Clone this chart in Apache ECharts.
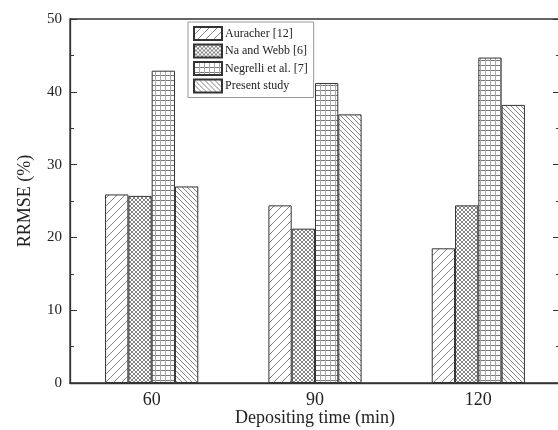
<!DOCTYPE html>
<html><head><meta charset="utf-8">
<script src="https://cdn.jsdelivr.net/npm/echarts@6/dist/echarts.min.js"></script>
<style>html,body{margin:0;padding:0;background:#fff}#c{width:558px;height:430px}</style>
</head><body><div id="c"></div>
<script>
const categories = ['60', '90', '120'];
const seriesNames = ['Auracher [12]', 'Na and Webb [6]', 'Negrelli et al. [7]', 'Present study'];
const auracher = [25.9, 24.4, 18.5];
const naWebb = [25.7, 21.2, 24.4];
const negrelli = [42.9, 41.2, 44.7];
const present = [27.0, 36.9, 38.2];

function tile(w, h, draw) {
  const c = document.createElement('canvas');
  c.width = w; c.height = h;
  const g = c.getContext('2d');
  g.fillStyle = '#fff'; g.fillRect(0, 0, w, h);
  draw(g, w, h);
  return c;
}
function diag(s, forward, color, lw) {
  return tile(s, s, (g, w, h) => {
    g.strokeStyle = color; g.lineWidth = lw;
    g.beginPath();
    for (let k = -1; k <= 1; k++) {
      if (forward) { g.moveTo(k * s - 1, s + 1); g.lineTo(k * s + s + 1, -1); }
      else { g.moveTo(k * s - 1, -1); g.lineTo(k * s + s + 1, s + 1); }
    }
    g.stroke();
  });
}
const patA = diag(8, true, '#777', 0.9);
const patD = diag(5, false, '#777', 0.9);
const patB = tile(4, 4, (g) => {
  g.strokeStyle = '#666'; g.lineWidth = 0.8;
  g.beginPath();
  g.moveTo(0, 0); g.lineTo(4, 4);
  g.moveTo(0, 4); g.lineTo(4, 0);
  g.stroke();
});
const patC = tile(5, 5, (g) => {
  g.fillStyle = '#777';
  g.fillRect(0, 0, 5, 1);
  g.fillStyle = '#aaa';
  g.fillRect(0, 0, 1, 5);
});
const pats = [patA, patB, patC, patD];
const values = [auracher, naWebb, negrelli, present];

const font = '"Liberation Serif", "DejaVu Serif", serif';
const chart = echarts.init(document.getElementById('c'), null, {renderer: 'canvas'});
chart.setOption({
  animation: false,
  backgroundColor: '#fff',
  textStyle: {fontFamily: font},
  grid: {left: 70, right: -2, top: 19, bottom: 47, show: true, borderColor: '#333', borderWidth: 1.3,
         containLabel: false, outerBoundsMode: 'none'},
  legend: {
    data: seriesNames, orient: 'vertical', left: 188, top: 22,
    itemWidth: 28, itemHeight: 13, itemGap: 2.5, padding: [4, 6, 4, 5],
    backgroundColor: '#fff', borderColor: '#999', borderWidth: 1,
    textStyle: {fontFamily: font, fontSize: 12, color: '#222', padding: [0, 0, 0, -2]},
    icon: 'rect'
  },
  xAxis: {
    type: 'category', data: categories,
    axisLine: {lineStyle: {color: '#333', width: 1.3}},
    axisTick: {show: false},
    axisLabel: {fontFamily: font, fontSize: 18, color: '#222', margin: 8},
    name: 'Depositing time (min)', nameLocation: 'middle', nameGap: 26, nameMoveOverlap: false,
    nameTextStyle: {fontFamily: font, fontSize: 18, color: '#222'}
  },
  yAxis: [{
    type: 'value', min: 0, max: 50, interval: 10,
    axisLine: {show: true, lineStyle: {color: '#333', width: 1.3}},
    axisTick: {show: true, inside: true, length: 7, lineStyle: {color: '#333'}},
    minorTick: {show: true, splitNumber: 2, length: 4, lineStyle: {color: '#333'}},
    splitLine: {show: false},
    axisLabel: {fontFamily: font, fontSize: 15, color: '#222', margin: 8},
    name: 'RRMSE (%)', nameLocation: 'middle', nameGap: 36, nameMoveOverlap: false,
    nameTextStyle: {fontFamily: font, fontSize: 18, color: '#222'}
  }, {
    type: 'value', min: 0, max: 50, interval: 10, position: 'right',
    axisLine: {show: true, lineStyle: {color: '#333', width: 1.3}},
    axisTick: {show: true, inside: true, length: 7, lineStyle: {color: '#333'}},
    minorTick: {show: true, splitNumber: 2, length: 4, lineStyle: {color: '#333'}},
    splitLine: {show: false},
    axisLabel: {show: false}
  }],
  series: seriesNames.map((n, i) => ({
    name: n, type: 'bar', data: values[i],
    barWidth: 23.3, barGap: '0%',
    itemStyle: {color: {image: pats[i], repeat: 'repeat'}, borderColor: '#333', borderWidth: 1}
  }))
});
</script></body></html>
